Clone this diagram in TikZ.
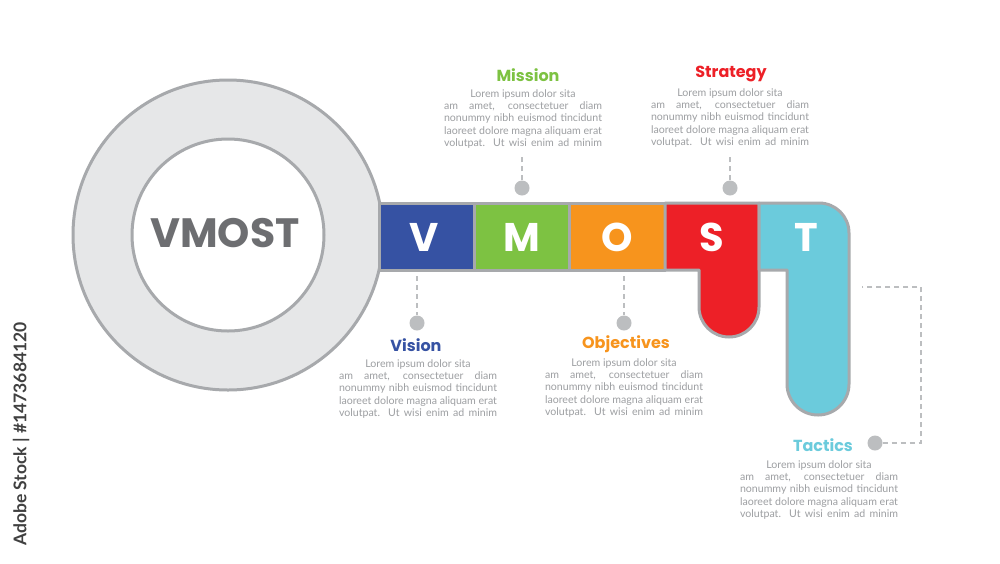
\documentclass[tikz,border=0pt]{standalone}
\usepackage{fontspec}
\setmainfont{Poppins}
\newfontfamily\latofont{Lato}
\usepackage{xcolor}
\definecolor{ringfill}{HTML}{E6E7E8}
\definecolor{ringline}{HTML}{A7A9AC}
\definecolor{darktxt}{HTML}{6D6E71}
\definecolor{bodytxt}{HTML}{9D9FA2}
\definecolor{dotgray}{HTML}{BCBEC0}
\definecolor{cblue}{HTML}{3652A3}
\definecolor{cgreen}{HTML}{7DC242}
\definecolor{corange}{HTML}{F7941D}
\definecolor{cred}{HTML}{ED2027}
\definecolor{ccyan}{HTML}{6BCBDC}

\tikzset{
  tile/.style={draw=ringline, line width=3pt, line join=round},
  letter/.style={text=white, font=\bfseries\fontsize{40}{40}\selectfont},
  title/.style={font=\bfseries\fontsize{16}{16}\selectfont},
  body/.style={text=bodytxt, align=center, font=\latofont\fontsize{10.6}{12.3}\selectfont},
  conn/.style={dotgray, line width=1.2pt, dash pattern=on 5pt off 4pt},
  dot/.style={circle, fill=dotgray, minimum size=15pt, inner sep=0pt}
}
\newcommand{\sline}[1]{\makebox[158pt][s]{#1}}
\newcommand{\lorem}{Lorem ipsum dolor sita\\
  \sline{am amet, consectetuer diam}\\
  \sline{nonummy nibh euismod tincidunt}\\
  \sline{laoreet dolore magna aliquam erat}\\
  \sline{volutpat. Ut wisi enim ad minim}}

\begin{document}
\begin{tikzpicture}[x=1pt, y=-1pt]
\useasboundingbox[fill=white] (0,0) rectangle (1000,563);

% ring
\filldraw[fill=ringfill, draw=ringline, line width=3pt] (228,235) circle (155);
\filldraw[fill=white, draw=ringline, line width=3pt] (228,235) circle (96);
\node[text=darktxt, font=\bfseries\fontsize{41}{41}\selectfont] (core) at (225,233) {VMOST};

% tiles
\filldraw[tile, fill=cblue] (379,203) rectangle (474,270);
\filldraw[tile, fill=cgreen] (474,203) rectangle (569,270);
\filldraw[tile, fill=corange] (569,203) rectangle (665,270);
\filldraw[tile, fill=cred] (665,203) -- (759,203) -- (759,307)
  arc[start angle=0, end angle=180, radius=30] -- (699,270) -- (665,270) -- cycle;
\filldraw[tile, fill=ccyan] (759,203) -- (819,203) arc[start angle=-90, end angle=0, radius=30]
  -- (849,384) arc[start angle=0, end angle=180, radius=31] -- (787,270) -- (759,270) -- cycle;

\node[letter] (lv) at (424,237) {V};
\node[letter] (lm) at (522,237) {M};
\node[letter] (lo) at (617,237) {O};
\node[letter] (ls) at (712,237) {S};
\node[letter] (lt) at (806,237) {T};

% connectors
\coordinate (mtop) at (522,156);
\coordinate (stop) at (730,156);
\coordinate (vtop) at (417,276);
\coordinate (otop) at (624,276);
\coordinate (tend) at (862,287);
\node[dot] (mdot) at (522,188) {};
\node[dot] (sdot) at (730,188) {};
\node[dot] (vdot) at (417,323) {};
\node[dot] (odot) at (624,323) {};
\node[dot] (tdot) at (875,443) {};
\draw[conn] (mdot) -- (mtop);
\draw[conn] (sdot) -- (stop);
\draw[conn] (vtop) -- (vdot);
\draw[conn] (otop) -- (odot);
\draw[conn] (tdot) -- (921,443) -- (921,287) -- (tend);

% titles and texts
\node[title, text=cgreen] (tmission) at (528,75) {Mission};
\node[body, anchor=north] (bmission) at (523,86) {\lorem};
\node[title, text=cred] (tstrategy) at (731,74) {Strategy};
\node[body, anchor=north] (bstrategy) at (730,85) {\lorem};
\node[title, text=cblue] (tvision) at (416,345) {Vision};
\node[body, anchor=north] (bvision) at (418,356) {\lorem};
\node[title, text=corange] (tobj) at (626,344) {Objectives};
\node[body, anchor=north] (bobj) at (624,355) {\lorem};
\node[title, text=ccyan] (ttactics) at (823,445) {Tactics};
\node[body, anchor=north] (btactics) at (819,457) {\lorem};

% side label
\node[rotate=90, text=black!75, font=\latofont\bfseries\fontsize{17.5}{17.5}\selectfont] (stock) at (21,434) {Adobe Stock | \#1473684120};
\end{tikzpicture}
\end{document}
